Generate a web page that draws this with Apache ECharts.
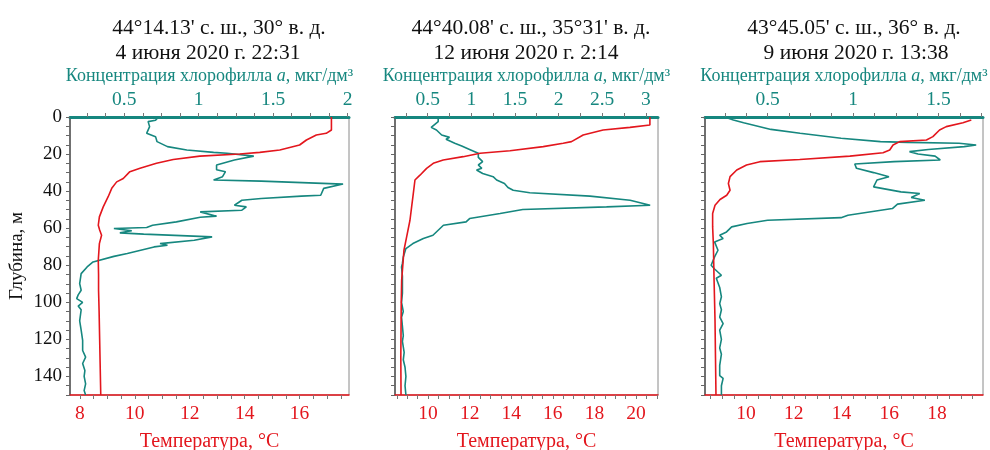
<!DOCTYPE html>
<html>
<head>
<meta charset="utf-8">
<script src="https://cdn.jsdelivr.net/npm/echarts@6/dist/echarts.min.js"></script>
<style>
  html, body { margin: 0; padding: 0; background: #fff; }
  #box { width: 990px; height: 450px; }
</style>
</head>
<body>
<div id="box"></div>
<script>
// профили: [глубина, значение]
const temp1 = [[0, 17.16], [7, 17.16], [8.8, 16.97], [9.7, 16.61], [12.4, 16.25], [15.1, 16.0], [17.8, 15.28],
  [19.1, 14.55], [20, 13.82], [21.1, 12.37], [22.9, 11.4], [25, 10.79], [27.7, 10.19], [29.5, 9.82], [33.2, 9.58],
  [35, 9.34], [38.5, 9.16], [43, 9.03], [48.5, 8.85], [53.9, 8.71], [58.4, 8.67], [61, 8.72], [63.8, 8.79],
  [68.3, 8.71], [77.3, 8.67], [85, 8.68], [93.5, 8.68], [105, 8.70], [120, 8.72], [135, 8.74], [150, 8.76]]
const chl1 = [[0, 0.73], [1.8, 0.71], [2.5, 0.66], [5.2, 0.67], [8.8, 0.65], [10.6, 0.71], [13.3, 0.72], [16, 0.79],
  [17.8, 0.92], [19.1, 1.10], [19.6, 1.19], [21.1, 1.37], [23.2, 1.24], [25.9, 1.12], [28.5, 1.12], [29.5, 1.18],
  [32.2, 1.16], [34, 1.10], [34.6, 1.42], [36.2, 1.97], [38.5, 1.84], [42.2, 1.82], [42.7, 1.69], [44, 1.42],
  [44.9, 1.29], [47.6, 1.24], [48.5, 1.32], [50.3, 1.29], [51.2, 1.01], [53.5, 1.12], [54.1, 1.01], [56.6, 0.85],
  [58.4, 0.69], [59.6, 0.65], [60.2, 0.43], [61.4, 0.55], [62.5, 0.47], [63.2, 0.63], [64.7, 1.09], [66.5, 0.97],
  [68.3, 0.74], [69.2, 0.79], [70.1, 0.70], [73.7, 0.52], [75.2, 0.43], [78.2, 0.29], [80.9, 0.25], [84.5, 0.21],
  [89.9, 0.20], [93.5, 0.21], [96, 0.19], [98, 0.18], [100, 0.22], [102, 0.19], [104, 0.21], [110, 0.20],
  [115, 0.21], [120.5, 0.22], [126, 0.22], [129.6, 0.24], [133, 0.22], [136.8, 0.235], [140, 0.23], [144, 0.24],
  [147.6, 0.23], [150, 0.24]]

const temp2 = [[0, 20.67], [4.3, 20.67], [5.6, 19.71], [7, 18.42], [9.7, 17.46], [13.3, 16.9], [14.2, 16.5],
  [16, 15.54], [18.2, 13.94], [19.6, 12.5], [21.4, 11.69], [23.2, 10.73], [25, 10.25], [27.7, 9.93], [31.4, 9.61],
  [34, 9.37], [41.3, 9.29], [48.5, 9.21], [55.7, 9.13], [64.7, 8.97], [71.9, 8.84], [80.9, 8.78], [88, 8.73],
  [100, 8.71], [115, 8.70], [130, 8.69], [150, 8.70]]
const chl2 = [[0, 0.62], [2.5, 0.62], [5.6, 0.54], [7, 0.60], [9.7, 0.66], [11, 0.75], [12, 0.71], [14.2, 0.81],
  [15.7, 0.89], [17.5, 0.98], [19.6, 1.08], [21.8, 1.08], [24.1, 1.13], [25.9, 1.08], [27.7, 1.12], [28.6, 1.06],
  [30.5, 1.13], [32.2, 1.25], [34, 1.29], [35.9, 1.38], [38, 1.42], [39.5, 1.48], [40.9, 1.67], [42.7, 2.36],
  [44.9, 2.82], [47.6, 3.05], [48.5, 2.55], [49.9, 1.59], [52.1, 1.33], [54.8, 0.98], [56.6, 0.94], [58.4, 0.68],
  [61.1, 0.62], [63.8, 0.56], [65.6, 0.45], [68.3, 0.33], [71, 0.25], [75.5, 0.22], [79, 0.21], [80.9, 0.20],
  [86, 0.21], [95, 0.21], [100, 0.20], [105, 0.22], [108, 0.20], [113, 0.21], [118, 0.22], [121, 0.21],
  [127, 0.23], [131, 0.22], [135, 0.24], [140, 0.25], [145, 0.24], [150, 0.25]]

const temp3 = [[1.6, 19.44], [3.1, 19.09], [5.2, 18.39], [7, 18.11], [10.6, 17.83], [12.4, 17.56], [13.3, 16.44],
  [15.1, 16.16], [17.8, 16.02], [19.3, 15.74], [21.1, 14.35], [22.9, 12.25], [24.1, 10.58], [25.9, 10.02],
  [28.6, 9.61], [32.2, 9.33], [35.9, 9.26], [39.5, 9.33], [42.2, 9.19], [44.5, 8.91], [47.6, 8.70], [52.1, 8.60],
  [59.3, 8.60], [68.3, 8.63], [88, 8.66], [110, 8.70], [130, 8.72], [150, 8.74]]
const chl3 = [[0, 0.25], [1.6, 0.30], [3.1, 0.36], [6.7, 0.52], [8.8, 0.69], [11.5, 0.93], [13.3, 1.16],
  [13.7, 1.32], [14.2, 1.62], [15.1, 1.72], [16, 1.65], [17.5, 1.44], [18.7, 1.33], [20, 1.38], [21.1, 1.48],
  [23.2, 1.51], [24.1, 1.24], [25.4, 1.01], [27.7, 1.02], [30, 1.12], [32.2, 1.21], [34, 1.14], [37.7, 1.12],
  [40.4, 1.28], [41.3, 1.39], [43.4, 1.34], [44.9, 1.42], [47, 1.26], [49.4, 1.23], [53, 0.97], [54.3, 0.93],
  [55.7, 0.50], [57.5, 0.38], [59.3, 0.29], [62, 0.26], [63.8, 0.22], [65.6, 0.24], [67.4, 0.19], [71.9, 0.21],
  [75.5, 0.19], [80, 0.17], [82, 0.19], [85.4, 0.23], [87, 0.20], [92, 0.22], [97, 0.23], [100.7, 0.22],
  [104, 0.23], [108, 0.22], [111.5, 0.24], [115, 0.22], [120, 0.23], [124.6, 0.22], [128, 0.23], [134, 0.22],
  [139.5, 0.22], [141, 0.24], [145, 0.23], [150, 0.23]]

// подписи осей
const depthLabels = [0, 20, 40, 60, 80, 100, 120, 140]
const chlLabels1 = [0.5, 1, 1.5, 2]
const chlLabels2 = [0.5, 1, 1.5, 2, 2.5, 3]
const chlLabels3 = [0.5, 1, 1.5]
const tempLabels1 = [8, 10, 12, 14, 16]
const tempLabels2 = [10, 12, 14, 16, 18, 20]
const tempLabels3 = [10, 12, 14, 16, 18]

const titles = [
  ["44°14.13' с. ш., 30° в. д.", '4 июня 2020 г. 22:31'],
  ["44°40.08' с. ш., 35°31' в. д.", '12 июня 2020 г. 2:14'],
  ["43°45.05' с. ш., 36° в. д.", '9 июня 2020 г. 13:38']
]

const TEAL = '#16877f'
const RED = '#e3161d'
const FONT = 'Liberation Serif'

// шаг мелких делений
const steps = (a, b, s) => {
  const out = []
  for (let v = Math.ceil(a / s - 1e-9) * s; v <= b + 1e-9; v += s) out.push(+v.toFixed(4))
  return out
}

const panels = [
  { left: 70, width: 279, chl: [0.135, 2.01], chlStep: 0.125, chlLabels: chlLabels1,
    t: [7.64, 17.8], tLabels: tempLabels1, temp: temp1, chlData: chl1,
    t1x: 214, t2x: 203 },
  { left: 395, width: 263, chl: [0.125, 3.14], chlStep: 0.25, chlLabels: chlLabels2,
    t: [8.41, 21.06], tLabels: tempLabels2, temp: temp2, chlData: chl2,
    t1x: 526, t2x: 521 },
  { left: 705, width: 278, chl: [0.134, 1.76], chlStep: 0.125, chlLabels: chlLabels3,
    t: [8.28, 19.93], tLabels: tempLabels3, temp: temp3, chlData: chl3,
    t1x: 849, t2x: 851 }
]

const myChart = echarts.init(document.getElementById('box'))

const grid = [], xAxis = [], yAxis = [], series = [], title = []

panels.forEach((p, i) => {
  grid.push({ left: p.left, width: p.width, top: 117, bottom: 55, show: true,
    containLabel: false, outerBoundsMode: 'none',
    borderColor: '#8a8a8a', borderWidth: 1, backgroundColor: 'transparent' })

  title.push({ text: titles[i][0], left: p.t1x, top: 12, textAlign: 'center',
    textStyle: { fontFamily: FONT, fontSize: 21.5, fontWeight: 'normal', color: '#111' } })
  title.push({ text: titles[i][1], left: p.t2x, top: 37, textAlign: 'center',
    textStyle: { fontFamily: FONT, fontSize: 21.5, fontWeight: 'normal', color: '#111' } })

  // хлорофилл сверху
  xAxis.push({
    type: 'value', gridIndex: i, position: 'top', min: p.chl[0], max: p.chl[1],
    name: '{n|Концентрация хлорофилла }{i|a}{n|, мкг/дм³}',
    nameLocation: 'middle', nameGap: 30,
    nameTextStyle: { rich: {
      n: { fontFamily: FONT, fontSize: 18, color: TEAL },
      i: { fontFamily: FONT, fontSize: 18, color: TEAL, fontStyle: 'italic' }
    } },
    axisLine: { show: true, lineStyle: { color: TEAL, width: 3 } },
    axisTick: { show: true, length: 4, lineStyle: { color: '#777', width: 1 },
      customValues: steps(p.chl[0], p.chl[1], p.chlStep) },
    axisLabel: { customValues: p.chlLabels, color: TEAL, fontFamily: FONT, fontSize: 19.5, margin: 7 },
    splitLine: { show: false }
  })
  // температура снизу
  xAxis.push({
    type: 'value', gridIndex: i, position: 'bottom', min: p.t[0], max: p.t[1],
    name: 'Температура, °C', nameLocation: 'middle', nameGap: 37,
    nameTextStyle: { fontFamily: FONT, fontSize: 20, color: RED },
    axisLine: { show: true, lineStyle: { color: RED, width: 1.5 } },
    axisTick: { show: true, length: 4, lineStyle: { color: '#777', width: 1 },
      customValues: steps(p.t[0], p.t[1], 0.5) },
    axisLabel: { customValues: p.tLabels, color: RED, fontFamily: FONT, fontSize: 19.5, margin: 9 },
    splitLine: { show: false }
  })
  yAxis.push({
    type: 'value', gridIndex: i, inverse: true, min: 0, max: 150,
    name: i === 0 ? 'Глубина, м' : '', nameLocation: 'middle', nameGap: 43,
    nameTextStyle: { fontFamily: FONT, fontSize: 19, color: '#111' },
    axisLine: { show: true, lineStyle: { color: '#555', width: 1.5 } },
    axisTick: { show: true, length: 4, lineStyle: { color: '#666', width: 1 },
      customValues: steps(0, 150, 5) },
    axisLabel: { show: i === 0, customValues: depthLabels, color: '#111', fontFamily: FONT, fontSize: 19, margin: 8 },
    splitLine: { show: false }
  })

  series.push({
    type: 'line', xAxisIndex: i * 2, yAxisIndex: i, showSymbol: false, symbol: 'none',
    data: p.chlData.map(d => [d[1], d[0]]),
    lineStyle: { color: TEAL, width: 1.6 }, animation: false, z: 2
  })
  series.push({
    type: 'line', xAxisIndex: i * 2 + 1, yAxisIndex: i, showSymbol: false, symbol: 'none',
    data: p.temp.map(d => [d[1], d[0]]),
    lineStyle: { color: RED, width: 1.6 }, animation: false, z: 3
  })
})

myChart.setOption({
  animation: false,
  title: title,
  grid: grid,
  xAxis: xAxis,
  yAxis: yAxis,
  series: series
})
</script>
</body>
</html>
